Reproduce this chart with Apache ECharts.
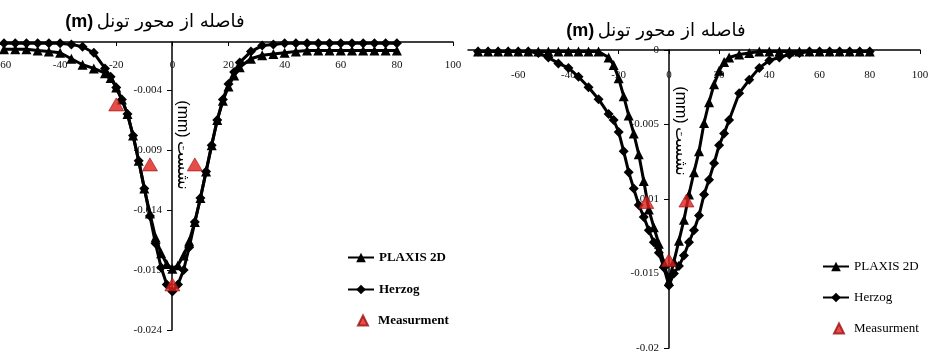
<!DOCTYPE html>
<html>
<head>
<meta charset="utf-8">
<script src="https://cdn.jsdelivr.net/npm/echarts@6/dist/echarts.min.js"></script>
<style>
  html, body { margin: 0; padding: 0; background: #fff; }
  #main { width: 933px; height: 358px; }
</style>
</head>
<body>
<div id="main"></div>
<script>
// left panel
const xLeft = [-60, -56, -52, -48, -44, -40, -36, -32, -28, -24,
  -22, -20, -18, -16, -14, -12, -10, -8, -6, -4, -2, 0, 2, 4, 6, 8, 10, 12, 14, 16, 18, 20, 22,
  24, 28, 32, 36, 40, 44, 48, 52, 56, 60, 64, 68, 72, 76, 80]
const plaxisLeft = [-0.0006, -0.0006, -0.0006, -0.0007, -0.0008, -0.0009, -0.0014, -0.0019, -0.0022, -0.0026,
  -0.0030, -0.0038, -0.0048, -0.0060, -0.0078, -0.0099, -0.0122, -0.0143, -0.0163, -0.0176, -0.0185, -0.0189,
  -0.0186, -0.0178, -0.0166, -0.0150, -0.0130, -0.0108, -0.0086, -0.0065, -0.0049, -0.0037, -0.0028,
  -0.0021, -0.0014, -0.0011, -0.0010, -0.0009, -0.0008, -0.0007, -0.0007, -0.0007, -0.0007, -0.0007, -0.0007, -0.0007, -0.0007, -0.0007]
const herzogLeft = [-0.0001, -0.0001, -0.0001, -0.0001, -0.0001, -0.0001, -0.0002, -0.0004, -0.0009, -0.0022,
  -0.0029, -0.0038, -0.0048, -0.0060, -0.0078, -0.0099, -0.0122, -0.0145, -0.0168, -0.0188, -0.0202, -0.0208,
  -0.0202, -0.0190, -0.0171, -0.0150, -0.0130, -0.0108, -0.0086, -0.0065, -0.0048, -0.0035, -0.0025,
  -0.0017, -0.0008, -0.0003, -0.0002, -0.0001, -0.0001, -0.0001, -0.0001, -0.0001, -0.0001, -0.0001, -0.0001, -0.0001, -0.0001, -0.0001]
const measXLeft = [-20, -8, 0, 8]
const measLeft = [-0.0052, -0.0102, -0.0202, -0.0102]
const yTicksLeft = [-0.024, -0.019, -0.014, -0.009, -0.004]

// right panel
const xRight = [-76, -72, -68, -64, -60, -56, -52, -48, -44, -40, -36, -32, -28, -24,
  -22, -20, -18, -16, -14, -12, -10, -8, -6, -4, -2, 0, 2, 4, 6, 8, 10, 12, 14, 16, 18, 20, 22,
  24, 28, 32, 36, 40, 44, 48, 52, 56, 60, 64, 68, 72, 76, 80]
const plaxisRight = [-0.0001, -0.0001, -0.0001, -0.0001, -0.0001, -0.0001, -0.0001, -0.0001, -0.0001, -0.0001, -0.0001, -0.0001, -0.0001, -0.0005,
  -0.0010, -0.0019, -0.0031, -0.0044, -0.0056, -0.0070, -0.0088, -0.0107, -0.0119, -0.0130, -0.0143, -0.0155,
  -0.0142, -0.0128, -0.0114, -0.0097, -0.0082, -0.0068, -0.0049, -0.0035, -0.0023, -0.0014, -0.0008,
  -0.0005, -0.0003, -0.0002, -0.0001, -0.0001, -0.0001, -0.0001, -0.0001, -0.0001, -0.0001, -0.0001, -0.0001, -0.0001, -0.0001, -0.0001]
const herzogRight = [-0.0001, -0.0001, -0.0001, -0.0001, -0.0001, -0.0001, -0.0002, -0.0005, -0.0009, -0.0012, -0.0018, -0.0025, -0.0033, -0.0043,
  -0.0047, -0.0055, -0.0068, -0.0082, -0.0093, -0.0104, -0.0112, -0.0121, -0.0129, -0.0136, -0.0146, -0.0158,
  -0.0150, -0.0145, -0.0138, -0.0129, -0.0121, -0.0111, -0.0097, -0.0087, -0.0076, -0.0064, -0.0056,
  -0.0047, -0.0029, -0.0020, -0.0012, -0.0007, -0.0005, -0.0003, -0.0002, -0.0001, -0.0001, -0.0001, -0.0001, -0.0001, -0.0001, -0.0001]
const measXRight = [-9, 0, 7]
const measRight = [-0.0102, -0.0141, -0.0101]

const xTitle = '{b|(m)} {a|فاصله از محور تونل}'
const yTitle = '{b|(mm)} {a|نشست}'

const pairs = (xs, ys) => xs.map((x, i) => [x, ys[i]])

const labelFont = { fontFamily: 'Liberation Serif', fontSize: 11, color: '#111' }
const black = { color: '#000', width: 1.5 }

// x axis sits on y = 0, which is the top of each plot; labels hang below it
function xAxisFor(idx, min, margin) {
  return {
    gridIndex: idx,
    type: 'value',
    position: 'top',
    min: min,
    max: 100,
    interval: 20,
    axisLine: { onZero: false, lineStyle: black },
    axisTick: { inside: true, length: 4, lineStyle: { color: '#000' } },
    axisLabel: Object.assign({ inside: true, margin: margin, showMinLabel: idx === 0 }, labelFont),
    splitLine: { show: false }
  }
}

// y axis pulled in to x = 0
function yAxisFor(idx, min, offset, extra) {
  return Object.assign({
    gridIndex: idx,
    type: 'value',
    position: 'left',
    offset: offset,
    min: min,
    max: 0,
    axisLine: { show: true, onZero: false, lineStyle: black },
    axisTick: { show: true, length: 5, lineStyle: { color: '#000' } },
    axisLabel: Object.assign({ margin: 10 }, labelFont),
    splitLine: { show: false }
  }, extra)
}

function lineSeries(name, symbol, idx, xs, ys) {
  return {
    name: name,
    type: 'line',
    xAxisIndex: idx,
    yAxisIndex: idx,
    data: pairs(xs, ys),
    symbol: symbol,
    symbolSize: 10,
    showAllSymbol: true,
    itemStyle: { color: '#000' },
    lineStyle: { color: '#000', width: 3 },
    z: 2
  }
}

function measSeries(idx, xs, ys) {
  return {
    name: 'Measurment',
    type: 'scatter',
    xAxisIndex: idx,
    yAxisIndex: idx,
    data: pairs(xs, ys),
    symbol: 'triangle',
    symbolSize: [15, 13],
    itemStyle: { color: '#e0201b', borderColor: '#9a1010', borderWidth: 0.8 },
    z: 5
  }
}

function legendFont(bold) {
  return { fontFamily: 'Liberation Serif', fontSize: 13, fontWeight: bold ? 'bold' : 'normal', color: '#000' }
}

function lineLegend(left, top, gap, bold) {
  return {
    data: ['PLAXIS 2D', 'Herzog'],
    orient: 'vertical',
    left: left,
    top: top,
    padding: 0,
    itemWidth: 26,
    itemHeight: 12,
    itemGap: gap,
    selectedMode: false,
    textStyle: legendFont(bold)
  }
}

function measLegend(left, top, bold) {
  return {
    data: ['Measurment'],
    left: left,
    top: top,
    padding: 0,
    itemWidth: 10,
    itemHeight: 10,
    selectedMode: false,
    textStyle: Object.assign({ padding: [0, 0, 0, 5] }, legendFont(bold))
  }
}

function axisTitle(x, y, text, size, rotate) {
  return {
    type: 'text',
    x: x,
    y: y,
    rotation: rotate,
    style: {
      text: text,
      textAlign: 'center',
      textVerticalAlign: 'middle',
      fill: '#000',
      rich: {
        b: { fontFamily: 'Liberation Sans', fontSize: size, fontWeight: rotate ? 'normal' : 'bold', fill: '#000' },
        a: { fontFamily: 'DejaVu Sans', fontSize: size, fill: '#000' }
      }
    }
  }
}

const chart = echarts.init(document.getElementById('main'))

const option = {
  backgroundColor: '#fff',
  animation: false,
  grid: [
    { left: 4, top: 42, width: 449, height: 288, outerBoundsMode: 'none' },
    { left: 468, top: 50, width: 452, height: 298, outerBoundsMode: 'none' }
  ],
  xAxis: [xAxisFor(0, -60, 18), xAxisFor(1, -80, 20)],
  yAxis: [
    yAxisFor(0, -0.024, -168, {
      axisTick: { show: true, length: 5, customValues: yTicksLeft, lineStyle: { color: '#000' } },
      axisLabel: Object.assign({ margin: 10, customValues: yTicksLeft }, labelFont)
    }),
    yAxisFor(1, -0.02, -201, { interval: 0.005 })
  ],
  legend: [
    lineLegend(347, 251, 19, true),
    measLegend(357, 314, true),
    lineLegend(822, 260, 18, false),
    measLegend(833, 322, false)
  ],
  graphic: [
    axisTitle(155, 22, xTitle, 18, 0),
    axisTitle(656, 31, xTitle, 18, 0),
    axisTitle(182, 145, yTitle, 16, -Math.PI / 2),
    axisTitle(680, 131, yTitle, 16, -Math.PI / 2)
  ],
  series: [
    lineSeries('PLAXIS 2D', 'triangle', 0, xLeft, plaxisLeft),
    lineSeries('Herzog', 'diamond', 0, xLeft, herzogLeft),
    measSeries(0, measXLeft, measLeft),
    lineSeries('PLAXIS 2D', 'triangle', 1, xRight, plaxisRight),
    lineSeries('Herzog', 'diamond', 1, xRight, herzogRight),
    measSeries(1, measXRight, measRight)
  ]
}

chart.setOption(option)
</script>
</body>
</html>
